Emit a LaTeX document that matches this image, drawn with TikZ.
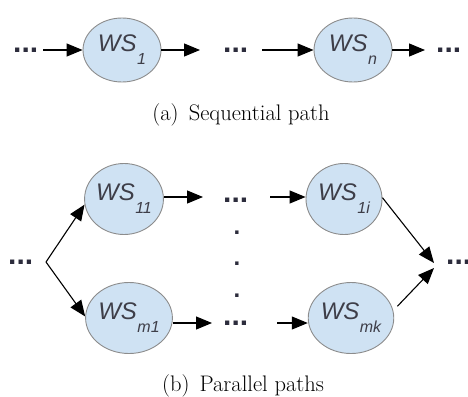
\documentclass[tikz,border=0pt]{standalone}
\usepackage{fontspec}
\newfontfamily\lsans{Liberation Sans}
\usetikzlibrary{shapes.geometric,arrows.meta}
\definecolor{wsfill}{HTML}{CFE2F3}
\definecolor{wsdraw}{HTML}{8C8C8C}
\definecolor{wstext}{HTML}{3E3E48}
\definecolor{dotcol}{HTML}{2C2C3C}
\newcommand{\wslabel}[1]{{\lsans\itshape\fontsize{24}{26}\selectfont WS\hspace{0.5pt}\raisebox{-13pt}{\fontsize{16}{17}\selectfont #1}}}
\begin{document}
\begin{tikzpicture}[x=1pt,y=-1pt,
  wsa/.style={ellipse,draw=wsdraw,line width=0.9pt,fill=wsfill,minimum width=78pt,minimum height=64pt,inner sep=0pt,text=wstext},
  wsb/.style={ellipse,draw=wsdraw,line width=0.9pt,fill=wsfill,minimum width=76pt,minimum height=71pt,inner sep=0pt,text=wstext},
  dotstext/.style={inner sep=0pt,anchor=base west,text=dotcol,font=\lsans\bfseries\fontsize{30}{30}\selectfont},
  vdot/.style={inner sep=0pt,anchor=base,text=dotcol,font=\lsans\bfseries\fontsize{24}{24}\selectfont},
  arr/.style={line width=1.1pt,-{Triangle[length=16pt,width=13pt]}},
  captext/.style={inner sep=0pt,anchor=base,font=\fontsize{22.5}{26}\selectfont}]
\useasboundingbox (0,0) rectangle (468,396);
% (a) sequential path
\node[dotstext] (d1) at (13,52.2) {...};
\node[wsa] (ws1) at (122,50) {\wslabel{1}};
\coordinate (a1) at (200,50);
\node[dotstext] (d2) at (223,52.2) {...};
\coordinate (a2) at (262,50);
\node[wsa] (wsn) at (353,50) {\wslabel{n}};
\coordinate (a3) at (425,50);
\node[dotstext] (d3) at (436,52.2) {...};
\draw[arr] ([xshift=5pt]d1.east |- ws1.west) -- (ws1.west);
\draw[arr] (ws1.east) -- (a1);
\draw[arr] (a2) -- (wsn.west);
\draw[arr] (wsn.east) -- (a3);
\node[captext] (capa) at (241,120) {(a)\hspace{0.45em}Sequential path};
% (b) parallel paths
\node[wsb] (ws11) at (124,199) {\wslabel{11}};
\node[wsb] (ws1i) at (344,199) {\wslabel{1i}};
\node[wsb] (wsm1) at (129,318) {\wslabel{m1}};
\node[wsb] (wsmk) at (351,318) {\wslabel{mk}};
\node[dotstext] (d4) at (8,264.2) {...};
\coordinate (br) at (46,262);
\draw[arr] (br) -- (ws11.188);
\draw[arr] (br) -- (wsm1.178);
\coordinate (b1) at (203,197);
\node[dotstext] (d5) at (223,202.2) {...};
\coordinate (b2) at (270,197);
\draw[arr] (ws11.east |- b1) -- (b1);
\draw[arr] (b2) -- (ws1i.west |- b2);
\node[vdot] (v1) at (237,234) {.};
\node[vdot] (v2) at (237,265) {.};
\node[vdot] (v3) at (237,297) {.};
\coordinate (b3) at (212,323);
\node[dotstext] (d6) at (223,325.2) {...};
\coordinate (b4) at (277,323);
\draw[arr] (wsm1.east |- b3) -- (b3);
\draw[arr] (b4) -- (wsmk.west |- b4);
\coordinate (m1) at (434,263);
\coordinate (m2) at (434,268);
\draw[arr] (ws1i.2) -- (m1);
\draw[arr,shorten <=6pt] (wsmk.10) -- (m2);
\node[dotstext] (d7) at (446,264.2) {...};
\node[captext] (capb) at (243,391) {(b)\hspace{0.45em}Parallel paths};
\end{tikzpicture}
\end{document}
